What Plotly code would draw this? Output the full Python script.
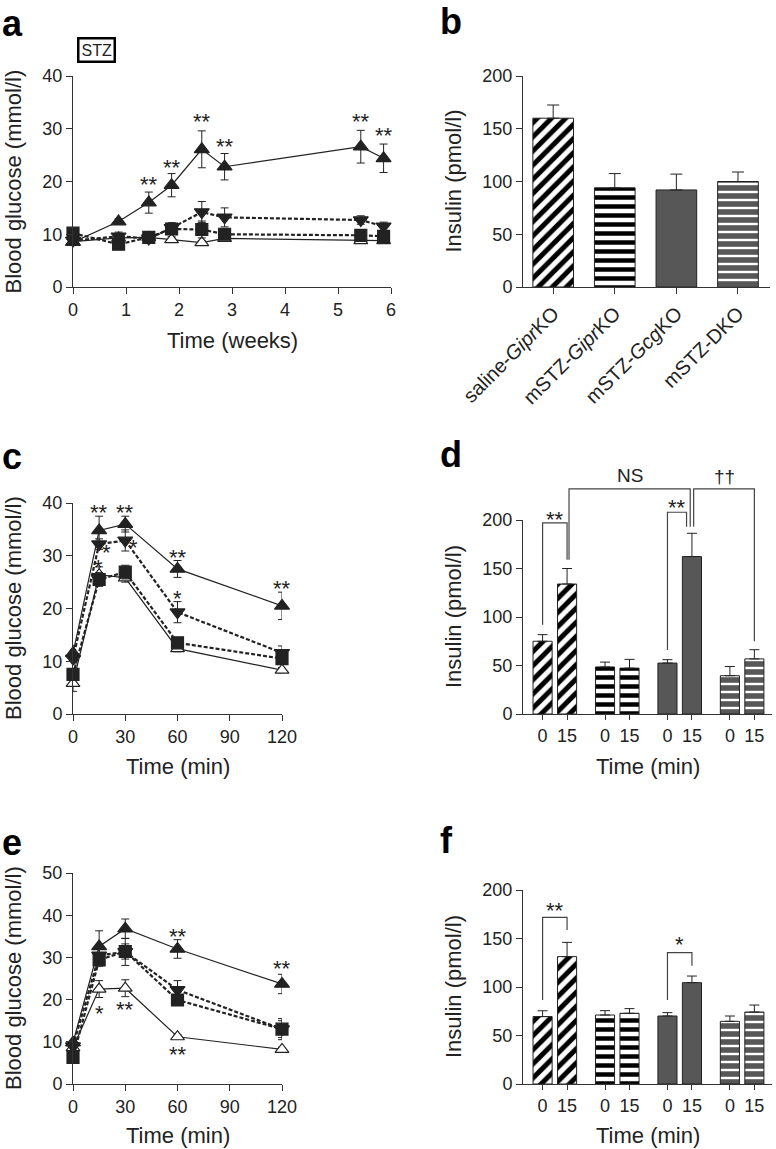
import plotly.graph_objects as go

W, H = 776, 1149
FONT = "Liberation Sans, Arial, Helvetica, sans-serif"
INK = "#222222"
GREY = "#575757"

# ---- panel a: glucose after STZ (weeks)
weeks = [0, 0.86, 1.43, 1.86, 2.43, 2.86, 5.43, 5.86]
a_up = [8.5, 12.4, 16.0, 19.3, 26.1, 22.8, 26.6, 24.4]
a_up_err = [0.4, 0.5, 2.0, 2.2, 3.5, 2.5, 3.1, 2.7]
a_down = [8.8, 9.6, 9.2, 11.2, 14.2, 13.2, 12.7, 11.5]
a_down_err = [0.6, 0.8, 0.6, 1.0, 2.0, 1.8, 0.8, 0.8]
a_square = [10.2, 8.1, 9.4, 11.0, 10.9, 10.0, 9.8, 9.6]
a_square_err = [0.8, 0.8, 0.5, 1.0, 1.6, 1.0, 0.8, 0.8]
a_open = [8.6, 9.3, 9.4, 9.0, 8.4, 9.2, 8.8, 8.8]
a_open_err = [0.4, 0.5, 0.4, 0.5, 0.4, 0.5, 0.5, 0.5]
a_stars = [("**", 1.43, 20.3), ("**", 1.86, 23.6), ("**", 2.43, 32.3),
           ("**", 2.86, 27.5), ("**", 5.43, 32.4), ("**", 5.86, 29.7)]

# ---- panels c and e: glucose tolerance (min)
minutes = [0, 15, 30, 60, 120]
c_up = [11.5, 34.8, 36.0, 27.5, 20.5]
c_up_err = [1.5, 2.7, 1.5, 1.6, 2.6]
c_down = [10.5, 32.2, 32.9, 19.3, 11.6]
c_down_err = [1.0, 1.0, 2.0, 2.0, 1.3]
c_square = [7.5, 25.5, 26.9, 13.5, 10.5]
c_square_err = [1.0, 1.3, 1.3, 1.0, 1.0]
c_open = [5.8, 26.4, 25.8, 12.4, 8.3]
c_open_err = [1.5, 1.5, 0.8, 0.6, 0.5]
c_stars = [("**", 15, 39.2), ("**", 30, 39.2), ("*", 19.5, 31.5), ("*", 14.9, 28.8),
           ("*", 34.6, 32.6), ("**", 60, 30.6), ("*", 60, 22.8), ("**", 120, 24.7)]

e_up = [9.8, 32.6, 36.8, 32.0, 23.7]
e_up_err = [1.0, 3.7, 2.3, 2.2, 2.3]
e_down = [9.0, 30.5, 31.3, 22.3, 13.0]
e_down_err = [1.0, 1.5, 3.2, 2.2, 2.5]
e_square = [6.3, 29.4, 31.4, 19.9, 13.0]
e_square_err = [1.0, 1.5, 1.8, 1.0, 2.0]
e_open = [8.6, 22.5, 22.7, 11.2, 8.2]
e_open_err = [0.8, 2.0, 2.0, 0.5, 0.5]
e_stars = [("**", 60, 36.1), ("**", 120, 28.5), ("*", 15, 18.0),
           ("**", 30, 18.8), ("**", 60, 8.2)]

# ---- panel b: insulin by group
groups = ["saline-<i>Gipr</i>KO", "mSTZ-<i>Gipr</i>KO", "mSTZ-<i>Gcg</i>KO", "mSTZ-DKO"]
b_insulin = [160, 94, 92, 100]
b_insulin_err = [12.5, 13.5, 15, 9]

# ---- panels d and f: insulin at 0 and 15 min
times = ["0", "15"]
d_zero = [75, 48.5, 52.5, 39.5]
d_zero_err = [6.8, 5.0, 3.5, 9.5]
d_fifteen = [134, 47.3, 162.3, 56.8]
d_fifteen_err = [16, 9, 24, 9.5]

f_zero = [69.5, 71.1, 70.1, 64.6]
f_zero_err = [6.0, 4.5, 3.5, 5.5]
f_fifteen = [131.3, 72.9, 104.5, 74.2]
f_fifteen_err = [14.7, 4.8, 6.8, 7.2]

PAIR_STEP = 2.55


def pos(g, t):
    return g * PAIR_STEP + t


# panel geometry in pixels (left, right) / (bottom, top) and data ranges
GEOM = {
    1: dict(x=(73, 391), xr=(0, 6), y=(287, 76), yr=(0, 40)),
    2: dict(x=(523, 770), xr=(-0.49, 3.52), y=(287, 76), yr=(0, 200)),
    3: dict(x=(73, 282), xr=(0, 120), y=(714, 503), yr=(0, 40)),
    4: dict(x=(523, 772), xr=(-0.8, 9.37), y=(714, 520), yr=(0, 200)),
    5: dict(x=(73, 282), xr=(0, 120), y=(1084, 873), yr=(0, 50)),
    6: dict(x=(523, 772), xr=(-0.8, 9.37), y=(1084, 890), yr=(0, 200)),
}


def to_paper(n, xv, yv):
    g = GEOM[n]
    px = g["x"][0] + (xv - g["xr"][0]) / (g["xr"][1] - g["xr"][0]) * (g["x"][1] - g["x"][0])
    py = g["y"][0] + (yv - g["yr"][0]) / (g["yr"][1] - g["yr"][0]) * (g["y"][1] - g["y"][0])
    return px / W, 1 - py / H


STYLE = {
    "open": dict(symbol="triangle-up", fill="white", dash="solid", width=1.2, size=12),
    "square": dict(symbol="square", fill=INK, dash="4px,2px", width=2.2, size=12),
    "down": dict(symbol="triangle-down", fill=INK, dash="4px,2px", width=2.2, size=13),
    "up": dict(symbol="triangle-up", fill=INK, dash="solid", width=1.2, size=13),
}

BAR_STYLE = [
    dict(color="white", pattern=dict(shape="/", fgcolor="black", bgcolor="white", fgopacity=1,
                                     size=10, solidity=0.5)),
    dict(color="white", pattern=dict(shape="-", fgcolor="black", bgcolor="white", fgopacity=1,
                                     size=9, solidity=0.5)),
    dict(color=GREY),
    dict(color=GREY, pattern=dict(shape="-", fgcolor="white", bgcolor=GREY, fgopacity=1,
                                  size=8, solidity=0.3)),
]

fig = go.Figure()
annotations = []
shapes = []


def note(text, x, y, size=22, **kw):
    d = dict(text=text, x=x, y=y, xref="paper", yref="paper", showarrow=False,
             xanchor="center", yanchor="middle", font=dict(size=size, color=INK))
    d.update(kw)
    annotations.append(d)


def glucose_panel(n, xs, series, stars):
    for key in ["open", "square", "down", "up"]:
        ys, err = series[key]
        st = STYLE[key]
        fig.add_trace(go.Scatter(
            x=xs, y=ys, mode="lines+markers",
            line=dict(color=INK, width=st["width"], dash=st["dash"]),
            marker=dict(symbol=st["symbol"], size=st["size"], color=st["fill"],
                        line=dict(color=INK, width=1.2)),
            error_y=dict(type="data", array=err, color=INK, thickness=1, width=4),
            cliponaxis=False, showlegend=False,
            xaxis=f"x{n}", yaxis=f"y{n}",
        ))
    for text, xv, yv in stars:
        note(text, xv, yv, size=22, xref=f"x{n}", yref=f"y{n}", yshift=-5)


def insulin_pairs(n, zero, zero_err, fifteen, fifteen_err, brackets):
    for g in range(4):
        fig.add_trace(go.Bar(
            x=[pos(g, 0), pos(g, 1)], y=[zero[g], fifteen[g]], width=0.78,
            marker=dict(line=dict(color=INK, width=1), **BAR_STYLE[g]),
            error_y=dict(type="data", symmetric=False, array=[zero_err[g], fifteen_err[g]],
                         arrayminus=[0, 0], color=INK, thickness=1, width=5),
            showlegend=False, xaxis=f"x{n}", yaxis=f"y{n}",
        ))
    for x0, y0, ytop, x1, y1, label, ylab in brackets:
        p0 = to_paper(n, x0, y0)
        pt0 = to_paper(n, x0, ytop)
        pt1 = to_paper(n, x1, ytop)
        p1 = to_paper(n, x1, y1)
        shapes.append(dict(type="path", xref="paper", yref="paper",
                           path=f"M {p0[0]},{p0[1]} L {pt0[0]},{pt0[1]} L {pt1[0]},{pt1[1]} L {p1[0]},{p1[1]}",
                           line=dict(color="#444444", width=1.2)))
        lx, ly = to_paper(n, (x0 + x1) / 2, ylab)
        star = "*" in label
        note(label, lx, ly, size=22 if star else 19, yshift=-5 if star else 0)


glucose_panel(1, weeks, {"open": (a_open, a_open_err), "square": (a_square, a_square_err),
                         "down": (a_down, a_down_err), "up": (a_up, a_up_err)}, a_stars)
glucose_panel(3, minutes, {"open": (c_open, c_open_err), "square": (c_square, c_square_err),
                           "down": (c_down, c_down_err), "up": (c_up, c_up_err)}, c_stars)
glucose_panel(5, minutes, {"open": (e_open, e_open_err), "square": (e_square, e_square_err),
                           "down": (e_down, e_down_err), "up": (e_up, e_up_err)}, e_stars)

# panel b bars
for g in range(4):
    fig.add_trace(go.Bar(
        x=[g], y=[b_insulin[g]], width=0.66,
        marker=dict(line=dict(color=INK, width=1), **BAR_STYLE[g]),
        error_y=dict(type="data", symmetric=False, array=[b_insulin_err[g]], arrayminus=[0],
                     color=INK, thickness=1, width=6),
        showlegend=False, xaxis="x2", yaxis="y2",
    ))

d_brackets = [
    (pos(0, 0), 92, 197, pos(0, 1), 159, "**", 206),
    (pos(0, 1) + 0.08, 159, 232, pos(2, 1) - 0.07, 193, "NS", 246),
    (pos(2, 0), 66, 208, pos(2, 1) - 0.22, 193, "**", 218),
    (pos(2, 1) + 0.07, 193, 232, pos(3, 1), 75, "††", 245),
]
f_brackets = [
    (pos(0, 0), 86.6, 171.8, pos(0, 1), 158.8, "**", 184.5),
    (pos(2, 0), 86.6, 135.4, pos(2, 1), 122, "*", 148.5),
]
insulin_pairs(4, d_zero, d_zero_err, d_fifteen, d_fifteen_err, d_brackets)
insulin_pairs(6, f_zero, f_zero_err, f_fifteen, f_fifteen_err, f_brackets)

axis_common = dict(showline=True, linecolor="#333333", linewidth=1, ticks="outside",
                   ticklen=6, tickcolor="#333333", showgrid=False, zeroline=False,
                   automargin=False, tickfont=dict(size=18, color=INK), fixedrange=True)

layout_axes = {}
for n, g in GEOM.items():
    suffix = "" if n == 1 else str(n)
    xa = dict(axis_common, domain=[g["x"][0] / W, g["x"][1] / W], range=list(g["xr"]),
              anchor=f"y{n}" if n > 1 else "y")
    ya = dict(axis_common, domain=[1 - g["y"][0] / H, 1 - g["y"][1] / H], range=list(g["yr"]),
              anchor=f"x{n}" if n > 1 else "x")
    layout_axes["xaxis" + suffix] = xa
    layout_axes["yaxis" + suffix] = ya

layout_axes["xaxis"].update(dtick=1, tick0=0)
layout_axes["yaxis"].update(dtick=10)
layout_axes["xaxis2"].update(tickvals=list(range(4)), ticktext=groups, tickangle=-45,
                             tickfont=dict(size=20, color=INK))
layout_axes["yaxis2"].update(dtick=50)
layout_axes["xaxis3"].update(dtick=30, tick0=0)
layout_axes["yaxis3"].update(dtick=10)
layout_axes["xaxis5"].update(dtick=30, tick0=0)
layout_axes["yaxis5"].update(dtick=10)
for n in (4, 6):
    layout_axes[f"xaxis{n}"].update(tickvals=[pos(g, t) for g in range(4) for t in range(2)],
                                    ticktext=times * 4, ticklen=5)
    layout_axes[f"yaxis{n}"].update(dtick=50)

# panel letters
for letter, px, py in [("a", 0, 24), ("b", 438, 22), ("c", 0, 457), ("d", 438, 454),
                       ("e", 0, 842), ("f", 438, 840)]:
    note(f"<b>{letter}</b>", px / W, 1 - py / H, size=36, xanchor="left",
         font=dict(size=36, color="black"))

# axis titles
for text, px, py in [("Time (weeks)", 232, 340), ("Time (min)", 177.5, 766),
                     ("Time (min)", 177.5, 1135), ("Time (min)", 648, 766),
                     ("Time (min)", 648, 1135)]:
    note(text, px / W, 1 - py / H)
for text, px, py in [("Blood glucose (mmol/l)", 13, 181.5), ("Blood glucose (mmol/l)", 13, 608),
                     ("Blood glucose (mmol/l)", 13, 978), ("Insulin (pmol/l)", 453, 181.5),
                     ("Insulin (pmol/l)", 453, 617), ("Insulin (pmol/l)", 453, 987)]:
    note(text, px / W, 1 - py / H, textangle=-90)

note("STZ", 96 / W, 1 - 50 / H, size=16, bordercolor="black", borderwidth=2.5, borderpad=2)

fig.update_layout(
    width=W, height=H,
    margin=dict(l=0, r=0, t=0, b=0),
    paper_bgcolor="white", plot_bgcolor="white",
    font=dict(family=FONT, color=INK),
    barmode="overlay",
    showlegend=False,
    annotations=annotations,
    shapes=shapes,
    **layout_axes,
)

fig.write_html("out.html", config={"displayModeBar": False},
               post_script="document.body.style.margin = '0px';")
